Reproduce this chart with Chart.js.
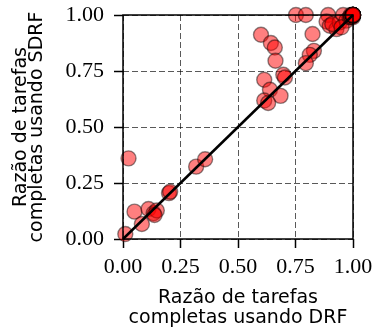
<!DOCTYPE html>
<html lang="pt">
<head>
    <meta charset="UTF-8">
    <title>Razão de tarefas completas: DRF x SDRF</title>
    <style>
        body { margin: 0; background: #fff; }
        canvas { display: block; }
    </style>
</head>
<body>
    <canvas id="ratioChart" width="374" height="332"></canvas>

    <script src="https://cdn.jsdelivr.net/npm/chart.js"></script>
    <script>
        // Ratio of completed tasks per workload (x = DRF, y = SDRF)
        const drfRatio = [
            0.01, 0.024, 0.05, 0.082, 0.111, 0.133, 0.147, 0.137, 0.20, 0.205,
            0.318, 0.357,
            0.600, 0.643, 0.660, 0.663, 0.697, 0.704, 0.614, 0.639, 0.685, 0.614, 0.631,
            0.752, 0.795, 0.824, 0.830, 0.812, 0.795,
            0.892, 0.885, 0.899, 0.928, 0.942, 0.957, 0.971, 0.91, 0.95,
            0.985, 0.99, 0.995, 0.997, 0.99, 1.0, 0.993, 1.0, 0.996,
            1.0, 1.0, 1.0, 1.0, 1.0, 1.0, 1.0, 1.0, 1.0, 1.0, 1.0, 1.0, 1.0, 1.0
        ];
        const sdrfRatio = [
            0.022, 0.36, 0.122, 0.067, 0.134, 0.115, 0.127, 0.107, 0.205, 0.211,
            0.323, 0.356,
            0.912, 0.875, 0.855, 0.796, 0.733, 0.721, 0.711, 0.666, 0.639, 0.618, 0.607,
            1.0, 1.0, 0.915, 0.84, 0.822, 0.785,
            1.0, 0.971, 0.952, 0.937, 0.967, 1.0, 0.975, 0.96, 0.945,
            0.99, 0.99, 0.995, 1.0, 1.0, 0.99, 0.993, 0.996, 1.0,
            1.0, 1.0, 1.0, 1.0, 1.0, 1.0, 1.0, 1.0, 1.0, 1.0, 1.0, 1.0, 1.0, 1.0
        ];

        // y = x reference line
        const diagX = [0, 1];
        const diagY = [0, 1];

        const tickValues = [0, 0.25, 0.5, 0.75, 1];

        const tickFont = { family: 'Liberation Serif', size: 22 };
        const gridStyle = {
            color: 'rgba(0,0,0,0.65)',
            lineWidth: 1,
            tickColor: '#000',
            tickWidth: 1.5,
            tickLength: 9,
            tickBorderDash: []
        };

        // frame around the plot area (all four spines)
        const framePlugin = {
            id: 'frame',
            afterDatasetsDraw(chart) {
                const a = chart.chartArea;
                const ctx = chart.ctx;
                ctx.save();
                ctx.strokeStyle = '#000';
                ctx.lineWidth = 1.5;
                ctx.strokeRect(a.left, a.top, a.right - a.left, a.bottom - a.top);
                ctx.restore();
            }
        };

        const ctx = document.getElementById('ratioChart').getContext('2d');
        new Chart(ctx, {
            type: 'scatter',
            data: {
                datasets: [
                    {
                        type: 'line',
                        data: diagX.map((x, i) => ({ x: x, y: diagY[i] })),
                        borderColor: '#000',
                        borderWidth: 2.5,
                        pointRadius: 0,
                        fill: false,
                        clip: false
                    },
                    {
                        data: drfRatio.map((x, i) => ({ x: x, y: sdrfRatio[i] })),
                        backgroundColor: 'rgba(255,0,0,0.5)',
                        borderColor: 'rgba(0,0,0,0.45)',
                        borderWidth: 1.4,
                        pointRadius: 7.5,
                        clip: false
                    }
                ]
            },
            options: {
                responsive: false,
                animation: false,
                layout: { autoPadding: false, padding: { left: 0, top: 15, right: 21, bottom: 0 } },
                plugins: { legend: { display: false }, tooltip: { enabled: false } },
                scales: {
                    x: {
                        type: 'linear',
                        min: 0,
                        max: 1,
                        afterBuildTicks: s => { s.ticks = tickValues.map(v => ({ value: v })); },
                        afterFit: s => { s.height = 93; s.paddingLeft = 0; s.paddingRight = 0; },
                        ticks: {
                            font: tickFont,
                            color: '#000',
                            padding: 6,
                            maxRotation: 0,
                            callback: v => v.toFixed(2)
                        },
                        grid: gridStyle,
                        border: { display: false, dash: [6, 3] },
                        title: {
                            display: true,
                            text: ['Razão de tarefas', 'completas usando DRF'],
                            color: '#000',
                            font: { family: 'DejaVu Sans', size: 19, lineHeight: 1.1 },
                            padding: { top: 0, bottom: 3 }
                        }
                    },
                    y: {
                        type: 'linear',
                        min: 0,
                        max: 1,
                        afterBuildTicks: s => { s.ticks = tickValues.map(v => ({ value: v })); },
                        afterFit: s => { s.width = 123; s.paddingTop = 0; s.paddingBottom = 0; },
                        ticks: {
                            font: tickFont,
                            color: '#000',
                            padding: 10,
                            callback: v => v.toFixed(2)
                        },
                        grid: gridStyle,
                        border: { display: false, dash: [6, 3] },
                        title: {
                            display: true,
                            text: ['Razão de tarefas', 'completas usando SDRF'],
                            color: '#000',
                            font: { family: 'DejaVu Sans', size: 19, lineHeight: 0.84 },
                            padding: { top: 13, bottom: 0 }
                        }
                    }
                }
            },
            plugins: [framePlugin]
        });
    </script>
</body>
</html>
